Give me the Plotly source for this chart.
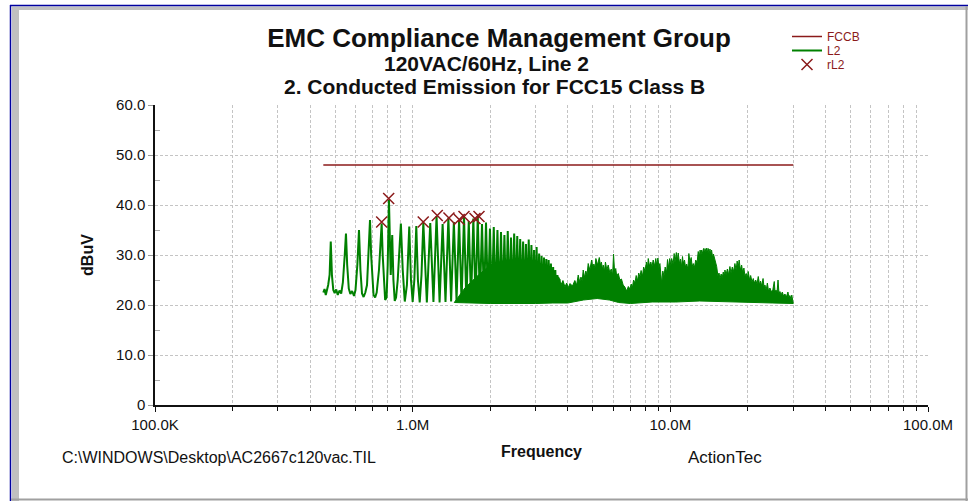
import plotly.graph_objects as go

# ---------------- data ----------------
# FCC Part 15 Class B conducted limit line (Hz, dBuV)
fccb_freq = [450e3, 30e6]
fccb_level = [48.0, 48.0]

# L2 trace, discrete harmonic part (kHz, dBuV)
l2_freq_khz = [
    450, 455, 460, 465, 470, 476, 481, 486, 492, 498, 505, 512, 520, 528, 536, 545, 551, 557,
    565, 573, 582, 592, 600, 610, 619, 627, 636, 645, 655, 665, 675, 683, 690, 697, 705, 715,
    725, 740, 758, 765, 772, 782, 792, 800, 809, 816, 822, 833, 842, 852, 862, 875, 900, 915,
    932, 950, 970, 985, 1000, 1015, 1033, 1048, 1065, 1082, 1100, 1135, 1170, 1204, 1238, 1272,
    1307, 1341, 1376, 1410, 1445, 1480, 1514, 1548, 1582, 1616, 1651, 1685, 1720, 1754, 1789,
    1823, 1858, 1892, 1926, 1960, 1995, 2030, 2064, 2098, 2133, 2167, 2202, 2236, 2270, 2304,
    2339, 2374, 2408, 2442, 2477, 2512, 2546, 2580, 2614, 2648, 2683, 2718, 2752, 2786, 2821,
    2856, 2890, 2924, 2958, 2992, 3027, 3062, 3096, 3130, 3165, 3200, 3234, 3268, 3302, 3336,
    3371, 3406, 3440, 3474, 3509, 3544, 3578, 3612, 3646, 3680, 3715, 3740,
]
l2_level = [
    22.5, 23.2, 22.0, 23.0, 24.0, 26.0, 32.7, 26.0, 23.0, 22.4, 23.1, 22.0, 22.9, 22.3, 24.5, 30.0, 34.3, 28.0,
    23.3, 22.2, 22.8, 21.8, 23.0, 28.0, 35.0, 27.0, 22.3, 21.6, 22.5, 24.0, 31.0, 37.0, 30.0, 27.0, 22.0, 21.5,
    22.5, 27.0, 36.3, 30.0, 26.3, 21.0, 21.5, 28.0, 41.0, 30.0, 26.0, 34.0, 25.0, 20.8, 21.5, 25.0, 36.3, 27.0,
    20.7, 24.0, 35.7, 25.0, 20.6, 25.0, 35.8, 25.0, 20.5, 26.0, 36.5, 20.5, 36.4, 20.6, 37.8, 20.5,
    36.2, 20.6, 37.4, 20.7, 36.6, 20.8, 37.0, 20.6, 37.8, 20.5, 36.8, 20.6, 37.3, 20.5, 37.8,
    20.6, 36.2, 20.5, 36.5, 20.4, 35.3, 20.5, 35.6, 20.4, 35.0, 20.5, 34.6, 20.4, 34.0, 20.5,
    34.8, 20.4, 33.5, 20.5, 34.3, 20.4, 33.8, 20.5, 33.2, 20.4, 32.7, 20.5, 32.2, 20.4, 33.1,
    20.5, 32.0, 20.4, 31.0, 20.5, 31.6, 20.4, 30.3, 20.5, 29.8, 20.4, 29.5, 20.5, 29.2, 20.4,
    29.0, 20.5, 28.3, 20.4, 27.6, 20.5, 27.0, 20.4, 26.0, 20.5, 25.2, 20.5,
]

# L2 dense part: upper envelope (MHz, dBuV)
dense_top_mhz = [
    1.45, 1.60, 1.80, 2.00, 2.30, 2.70, 3.10, 3.40, 3.70, 3.76, 3.83, 3.90, 3.96, 4.02, 4.08, 4.17,
    4.26, 4.33, 4.39, 4.45, 4.50, 4.55, 4.59, 4.65, 4.70, 4.75, 4.80, 4.87, 4.95, 5.00, 5.05, 5.10,
    5.14, 5.22, 5.30, 5.35, 5.40, 5.45, 5.49, 5.55, 5.60, 5.67, 5.74, 5.82, 5.90, 5.97, 6.02, 6.08,
    6.14, 6.19, 6.28, 6.37, 6.46, 6.56, 6.66, 6.77, 6.87, 6.97, 7.05, 7.12, 7.20, 7.29, 7.37, 7.45,
    7.54, 7.62, 7.70, 7.80, 7.88, 7.97, 8.08, 8.15, 8.21, 8.30, 8.40, 8.48, 8.58, 8.70, 8.78, 8.85,
    8.95, 9.03, 9.11, 9.20, 9.26, 9.35, 9.45, 9.55, 9.67, 9.75, 9.82, 9.95, 10.05, 10.12, 10.25,
    10.35, 10.42, 10.55, 10.65, 10.73, 10.85, 10.95, 11.06, 11.15, 11.22, 11.35, 11.45, 11.57,
    11.70, 11.80, 11.92, 12.05, 12.15, 12.27, 12.40, 12.55, 12.70, 12.83, 12.95, 13.05, 13.15,
    13.23, 13.35, 13.45, 13.55, 13.63, 13.75, 13.85, 13.95, 14.03, 14.15, 14.25, 14.35, 14.46,
    14.60, 14.70, 14.81, 14.95, 15.13, 15.30, 15.45, 15.58, 15.75, 15.90, 16.05, 16.20, 16.29,
    16.45, 16.65, 16.80, 17.03, 17.20, 17.40, 17.60, 17.81, 18.00, 18.17, 18.34, 18.50, 18.70,
    18.91, 19.10, 19.30, 19.48, 19.70, 19.90, 20.06, 20.30, 20.50, 20.75, 20.98, 21.20, 21.45,
    21.70, 21.94, 22.20, 22.40, 22.62, 22.90, 23.10, 23.29, 23.55, 23.80, 24.05, 24.35, 24.70,
    25.00, 25.31, 25.50, 25.70, 25.95, 26.18, 26.40, 26.63, 26.90, 27.20, 27.50, 27.85, 28.20,
    28.60, 28.90, 29.10, 29.40, 29.60, 29.80, 30.00,
]
dense_top_level = [
    20.5, 23.5, 26.0, 28.0, 29.0, 29.0, 28.0, 26.5, 25.5, 24.0, 24.9, 23.6, 24.4, 23.5, 24.3, 23.8,
    24.9, 24.0, 26.0, 24.6, 25.6, 24.8, 27.0, 25.5, 26.8, 26.0, 28.3, 27.0, 29.0, 27.6, 28.2, 27.4,
    29.3, 28.0, 29.5, 28.0, 28.6, 27.2, 28.0, 26.8, 28.6, 27.0, 28.0, 26.5, 27.2, 26.0, 30.2, 26.5,
    27.3, 25.8, 26.3, 25.0, 25.2, 24.0, 23.6, 22.8, 23.7, 23.2, 24.2, 23.4, 25.0, 24.4, 25.9, 24.8,
    26.4, 25.6, 26.9, 25.8, 27.6, 26.8, 28.6, 27.4, 29.3, 27.8, 28.6, 27.6, 29.0, 27.8, 29.3, 28.0,
    29.4, 27.5, 28.3, 26.5, 24.3, 26.8, 25.8, 27.6, 26.5, 29.1, 27.4, 29.3, 27.8, 29.3, 28.2,
    30.3, 28.5, 30.5, 29.0, 30.4, 28.3, 29.2, 27.7, 29.7, 28.4, 29.0, 27.6, 28.2,
    27.2, 30.3, 28.6, 29.5, 27.7, 28.3, 27.5, 29.0, 28.4, 30.7, 29.6, 31.0, 30.0,
    31.0, 30.3, 31.3, 30.4, 31.3, 30.6, 31.4, 30.5, 31.3, 30.2, 31.2, 30.1, 31.0,
    29.4, 30.2, 29.5, 28.8, 27.7, 25.8, 26.4, 25.3, 26.2, 25.5, 26.6, 25.6, 27.0,
    26.0, 27.2, 26.0, 27.7, 26.4, 27.6, 26.7, 28.3, 27.0, 28.8, 27.6, 29.0, 27.0,
    28.0, 26.4, 27.4, 25.8, 26.3, 25.4, 26.7, 25.0, 25.9, 24.6, 25.3, 24.4, 25.0,
    24.2, 25.7, 24.0, 24.8, 23.8, 25.3, 23.6, 24.0, 23.0, 24.4, 22.8, 23.4, 22.6,
    23.1, 24.7, 22.4, 23.0, 22.5, 25.0, 22.3, 22.7, 22.0, 22.6, 21.8, 22.2, 21.6,
    22.6, 21.4, 21.9, 21.2, 22.0, 21.3, 20.7,
]
# L2 dense part: lower envelope (MHz, dBuV)
dense_bot_mhz = [30.0, 25.0, 20.0, 16.0, 13.0, 10.5, 8.5, 7.0, 6.3, 5.8, 5.2, 4.6, 4.0, 3.5, 3.0, 2.0, 1.45]
dense_bot_level = [20.3, 20.4, 20.5, 20.6, 20.8, 20.6, 20.6, 20.3, 20.5, 21.0, 21.3, 21.0, 20.4, 20.4, 20.3, 20.3, 20.5]

# rL2 marker readings (kHz, dBuV)
rl2_freq_khz = [758, 807, 1099, 1246, 1383, 1516, 1582, 1745, 1809]
rl2_level = [36.6, 41.3, 36.6, 37.9, 37.4, 37.1, 37.7, 37.3, 37.7]

# axis ticks
x_tick_vals = [1e5, 1e6, 1e7, 1e8]
x_tick_text = ["100.0K", "1.0M", "10.0M", "100.0M"]
x_minor_vals = [m * d for d in (1e5, 1e6, 1e7) for m in range(2, 10)]
y_tick_vals = [0, 10, 20, 30, 40, 50, 60]
y_tick_text = ["0", "10.0", "20.0", "30.0", "40.0", "50.0", "60.0"]
y_minor_vals = [5, 15, 25, 35, 45, 55]

title_text = "EMC Compliance Management Group"
sub1_text = "120VAC/60Hz, Line 2"
sub2_text = "2. Conducted Emission for FCC15 Class B"
footer_left = r"C:\WINDOWS\Desktop\AC2667c120vac.TIL"
footer_right = "ActionTec"

# ---------------- styling ----------------
W, H = 968, 501
ML, MR, MT, MB = 155, 40, 105, 96
PW, PH = W - ML - MR, H - MT - MB
RED = "#8B1A1A"
GREEN = "#008000"
GRID = "#c4c4c4"
FONT = "Liberation Sans, Arial, sans-serif"
NARROW = "Liberation Sans Narrow, Arial Narrow, Liberation Sans, Arial, sans-serif"


def px(x):
    return (x - ML) / PW


def py(y):
    return (H - MB - y) / PH


fig = go.Figure()
fig.add_trace(go.Scatter(x=fccb_freq, y=fccb_level, mode="lines", name="FCCB", legend="legend",
                         line=dict(color=RED, width=1.5)))
fig.add_trace(go.Scatter(x=[f * 1e3 for f in l2_freq_khz], y=l2_level, mode="lines", name="L2",
                         legend="legend2", legendgroup="L2", line=dict(color=GREEN, width=2)))
fig.add_trace(go.Scatter(x=[f * 1e6 for f in dense_top_mhz + dense_bot_mhz],
                         y=dense_top_level + dense_bot_level, mode="lines", fill="toself",
                         fillcolor=GREEN, line=dict(color=GREEN, width=1), name="L2",
                         legendgroup="L2", showlegend=False))
fig.add_trace(go.Scatter(x=[f * 1e3 for f in rl2_freq_khz], y=rl2_level, mode="markers", name="rL2",
                         legend="legend3",
                         marker=dict(symbol="x-thin", size=11, line=dict(color=RED, width=1.5), color=RED)))

grid_common = dict(showgrid=True, gridcolor=GRID, gridwidth=1, griddash="3px,2px", zeroline=False)
legend_common = dict(x=px(787), xanchor="left", yanchor="middle", bgcolor="rgba(0,0,0,0)",
                     font=dict(size=12, color=RED, family=NARROW), tracegroupgap=0)

fig.update_layout(
    width=W, height=H, margin=dict(l=ML, r=MR, t=MT, b=MB, autoexpand=False),
    paper_bgcolor="white", plot_bgcolor="white",
    font=dict(family=FONT, color="#111"),
    title=dict(text="<b>" + title_text + "</b>", x=px(499), xref="paper", xanchor="center",
               y=1 - 38 / H, yanchor="middle", font=dict(size=26, color="#111", family=FONT)),
    xaxis=dict(type="log", range=[5, 8], tickmode="array", tickvals=x_tick_vals, ticktext=x_tick_text,
               ticks="outside", ticklen=5, tickcolor="#111", tickwidth=1,
               showline=True, linecolor="#111", linewidth=1.5,
               tickfont=dict(family=NARROW, size=15, color="#111"),
               minor=dict(tickmode="array", tickvals=x_minor_vals, ticks="outside", ticklen=4,
                          tickcolor="#111", showgrid=True, gridcolor=GRID, griddash="3px,2px"),
               title=dict(text="<b>Frequency</b>", standoff=14, font=dict(size=16, family=NARROW)),
               automargin=False, **grid_common),
    xaxis2=dict(type="log", range=[5, 8], overlaying="x", anchor="y", side="bottom",
                tickmode="array", tickvals=x_tick_vals, ticks="inside", ticklen=8, tickcolor="#111",
                showticklabels=False, showgrid=False, showline=False, zeroline=False,
                minor=dict(tickmode="array", tickvals=x_minor_vals, ticks="inside", ticklen=4,
                           tickcolor="#111", showgrid=False)),
    yaxis=dict(range=[0, 60], tickmode="array", tickvals=y_tick_vals, ticktext=y_tick_text,
               ticks="outside", ticklen=5, tickcolor="#999", tickwidth=1,
               showline=True, linecolor="#111", linewidth=1.5,
               tickfont=dict(family=NARROW, size=15, color="#111"),
               minor=dict(tickmode="array", tickvals=y_minor_vals, ticks="inside", ticklen=5,
                          tickcolor="#aaa", showgrid=False),
               title=dict(text="<b>dBuV</b>", standoff=18, font=dict(size=16, family=FONT)),
               automargin=False, **grid_common),
    legend=dict(y=py(36.5), **legend_common),
    legend2=dict(y=py(50.5), **legend_common),
    legend3=dict(y=py(64.5), **legend_common),
    showlegend=True,
    annotations=[
        dict(text="<b>" + sub1_text + "</b>", x=px(486), y=py(64), xref="paper", yref="paper",
             showarrow=False, xanchor="center", yanchor="middle", font=dict(size=21, family=FONT)),
        dict(text="<b>" + sub2_text + "</b>", x=px(494), y=py(86), xref="paper", yref="paper",
             showarrow=False, xanchor="center", yanchor="middle", font=dict(size=21, family=FONT)),
        dict(text=footer_left, x=px(60), y=py(457), xref="paper", yref="paper",
             showarrow=False, xanchor="left", yanchor="middle", font=dict(size=16, family=NARROW)),
        dict(text=footer_right, x=px(686), y=py(457), xref="paper", yref="paper",
             showarrow=False, xanchor="left", yanchor="middle", font=dict(size=17, family=NARROW)),
    ],
    shapes=[
        # window frame
        dict(type="rect", xref="paper", yref="paper", x0=px(12), x1=px(19), y0=py(501), y1=py(7),
             fillcolor="#c0c0c0", line=dict(width=0), layer="below"),
        dict(type="rect", xref="paper", yref="paper", x0=px(12), x1=px(968), y0=py(10), y1=py(6.5),
             fillcolor="#c0c0c0", line=dict(width=0), layer="below"),
        dict(type="line", xref="paper", yref="paper", x0=px(10.5), x1=px(10.5), y0=py(501), y1=py(5),
             line=dict(color="#0000a0", width=1.5)),
        dict(type="line", xref="paper", yref="paper", x0=px(10), x1=px(968), y0=py(5.5), y1=py(5.5),
             line=dict(color="#0000a0", width=1.5)),
        dict(type="line", xref="paper", yref="paper", x0=px(966.5), x1=px(966.5), y0=py(501), y1=py(6),
             line=dict(color="#a0a0a0", width=2)),
        dict(type="line", xref="paper", yref="paper", x0=px(11), x1=px(968), y0=py(499.5), y1=py(499.5),
             line=dict(color="#a0a0a0", width=2)),
    ],
)

fig.write_html("out.html", config={"displayModeBar": False},
               post_script="document.body.style.margin='0px';document.body.style.padding='0px';")
